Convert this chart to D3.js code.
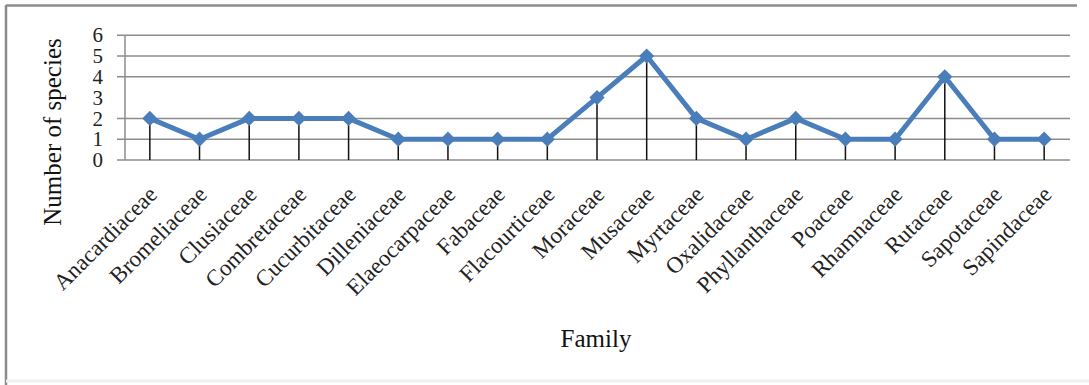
<!DOCTYPE html>
<html>
<head>
<meta charset="utf-8">
<script src="https://cdn.jsdelivr.net/npm/d3@7"></script>
<style>
  html, body { margin: 0; padding: 0; background: #fff; }
  svg { display: block; font-family: "Liberation Serif", "Times New Roman", serif; }
</style>
</head>
<body>
<svg width="1089" height="385"></svg>
<script>
// families on the x axis
var families = ["Anacardiaceae", "Bromeliaceae", "Clusiaceae", "Combretaceae", "Cucurbitaceae",
   "Dilleniaceae", "Elaeocarpaceae", "Fabaceae", "Flacourticeae", "Moraceae", "Musaceae",
   "Myrtaceae", "Oxalidaceae", "Phyllanthaceae", "Poaceae", "Rhamnaceae", "Rutaceae",
   "Sapotaceae", "Sapindaceae"];

// number of species per family
var species = [2, 1, 2, 2, 2, 1, 1, 1, 1, 3, 5, 2, 1, 2, 1, 1, 4, 1, 1];

var yTicks = [0, 1, 2, 3, 4, 5, 6];
var gridValues = [0, 1, 2, 4, 5, 6]; // the original has no line at 3

var svg = d3.select("svg");

// outer frame (only left and top edges show clearly)
svg.append("line")
   .attr("x1", 6).attr("y1", 5.5).attr("x2", 1077).attr("y2", 5.5)
   .attr("stroke", "#8c8c8c").attr("stroke-width", 2.5);
svg.append("line")
   .attr("x1", 6).attr("y1", 5).attr("x2", 6).attr("y2", 385)
   .attr("stroke", "#8c8c8c").attr("stroke-width", 2.5);
svg.append("line")
   .attr("x1", 6).attr("y1", 381).attr("x2", 1089).attr("y2", 381)
   .attr("stroke", "#f0f0f0").attr("stroke-width", 3);

var plotLeft = 125, plotRight = 1069, plotTop = 35.2, plotBottom = 160;

var x = d3.scaleBand()
   .domain(families)
   .range([plotLeft, plotRight]);

var y = d3.scaleLinear()
   .domain([0, 6])
   .range([plotBottom, plotTop]);

function cx(d) {
   return x(d) + x.bandwidth() / 2;
}

// gridlines
svg.append("g")
   .selectAll("line")
   .data(gridValues)
   .enter()
   .append("line")
   .attr("x1", plotLeft - 8)
   .attr("x2", plotRight + 1)
   .attr("y1", function(d) { return y(d); })
   .attr("y2", function(d) { return y(d); })
   .attr("stroke", "#8c8c8c")
   .attr("stroke-width", 1.5);

// vertical axis
svg.append("line")
   .attr("x1", plotLeft).attr("x2", plotLeft)
   .attr("y1", plotTop).attr("y2", plotBottom)
   .attr("stroke", "#8c8c8c")
   .attr("stroke-width", 1.5);

// y tick labels
svg.append("g")
   .selectAll("text")
   .data(yTicks)
   .enter()
   .append("text")
   .attr("x", 103)
   .attr("y", function(d) { return y(d); })
   .attr("dy", "0.34em")
   .attr("text-anchor", "end")
   .attr("font-size", 21)
   .attr("fill", "#222")
   .text(function(d) { return d; });

// drop lines
svg.append("g")
   .selectAll("line")
   .data(families)
   .enter()
   .append("line")
   .attr("x1", cx)
   .attr("x2", cx)
   .attr("y1", function(d, i) { return y(species[i]); })
   .attr("y2", plotBottom)
   .attr("stroke", "#111")
   .attr("stroke-width", 1.5);

// the line
var line = d3.line()
   .x(function(d, i) { return cx(families[i]); })
   .y(function(d) { return y(d); });

svg.append("path")
   .datum(species)
   .attr("d", line)
   .attr("fill", "none")
   .attr("stroke", "#4a7ebb")
   .attr("stroke-width", 5)
   .attr("stroke-linejoin", "round");

// diamond markers
var diamond = d3.symbol().type(d3.symbolSquare).size(115);
svg.append("g")
   .selectAll("path")
   .data(species)
   .enter()
   .append("path")
   .attr("d", diamond)
   .attr("transform", function(d, i) {
      return "translate(" + cx(families[i]) + "," + y(d) + ") rotate(45)";
   })
   .attr("fill", "#4a7ebb");

// category labels
svg.append("g")
   .selectAll("text")
   .data(families)
   .enter()
   .append("text")
   .attr("transform", function(d) {
      return "translate(" + (cx(d) + 3) + "," + 190 + ") rotate(-45)";
   })
   .attr("text-anchor", "end")
   .attr("dy", "0.35em")
   .attr("font-size", 23)
   .attr("fill", "#222")
   .text(function(d) { return d; });

// axis titles
svg.append("text")
   .attr("x", 596)
   .attr("y", 347)
   .attr("text-anchor", "middle")
   .attr("font-size", 25)
   .attr("fill", "#111")
   .text("Family");

svg.append("text")
   .attr("transform", "translate(61,132) rotate(-90)")
   .attr("text-anchor", "middle")
   .attr("font-size", 25)
   .attr("fill", "#111")
   .text("Number of species");
</script>
</body>
</html>
